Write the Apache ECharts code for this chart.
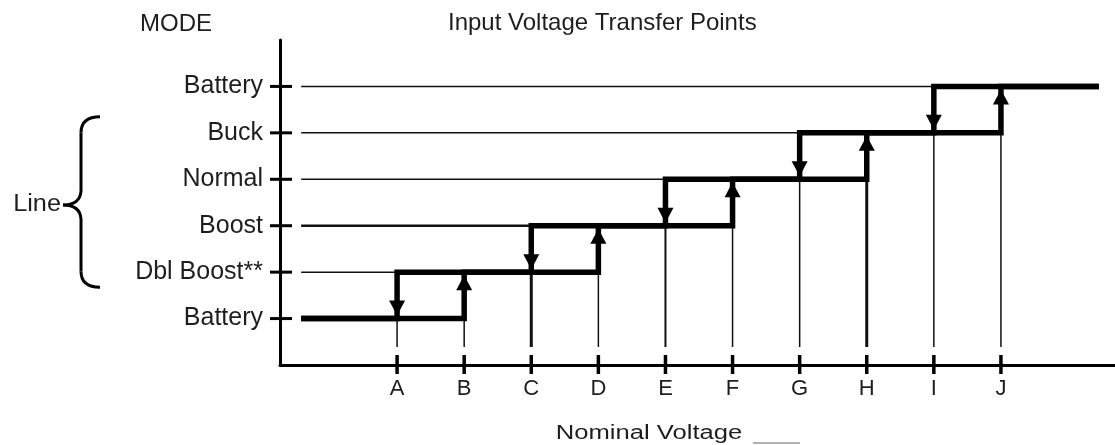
<!DOCTYPE html>
<html><head><meta charset="utf-8">
<script src="https://cdn.jsdelivr.net/npm/echarts@6/dist/echarts.min.js"></script>
<style>html,body{margin:0;padding:0;background:#fff}#c{width:1115px;height:445px}</style>
</head><body><div id="c"></div>
<script>
// ---- data ----
const categories = ['A','B','C','D','E','F','G','H','I','J'];
const modes = ['Battery','Dbl Boost**','Boost','Normal','Buck','Battery'];
// transfer points when voltage falls (mode steps down)
const fallingPoints = ['A','C','E','G','I'];
const fallingFrom = [1,2,3,4,5];
const fallingTo = [0,1,2,3,4];
// transfer points when voltage rises (mode steps up)
const risingPoints = ['B','D','F','H','J'];
const risingFrom = [0,1,2,3,4];
const risingTo = [1,2,3,4,5];
// modes grouped under "Line" (top, bottom)
const bracketModes = [4, 1];

// ---- layout constants ----
const X_MIN = -0.745, X_MAX = 11.7, Y_MIN = -1, Y_MAX = 6;
const X_START = -0.43, X_END = 11.46;
const FONT = "'Liberation Sans', Arial, Helvetica, sans-serif";
const TXT = '#1e1e1e';
const xOf = c => categories.indexOf(c) + 1;

const risingPath = [[X_START, 0]];
risingPoints.forEach((c, i) => { risingPath.push([xOf(c), risingFrom[i]], [xOf(c), risingTo[i]]); });
risingPath.push([X_END, modes.length - 1]);
const fallingPath = [[X_START, 0]];
fallingPoints.forEach((c, i) => { fallingPath.push([xOf(c), fallingTo[i]], [xOf(c), fallingFrom[i]]); });
fallingPath.push([X_END, modes.length - 1]);

const gridData = fallingPoints.map((c, i) => [xOf(c), fallingFrom[i]]);
const thinData = categories.map(c => {
  const fi = fallingPoints.indexOf(c);
  if (fi >= 0) return [xOf(c), fallingTo[fi]];
  const ri = risingPoints.indexOf(c);
  return [xOf(c), risingFrom[ri]];
});
const thinWidth = {C: 3, H: 3, E: 2};
const arrowData = fallingPoints.map((c, i) => [xOf(c), fallingTo[i], -1])
  .concat(risingPoints.map((c, i) => [xOf(c), risingTo[i], 1]));
const xTickData = categories.map(c => [xOf(c), Y_MIN]);
const yTickData = modes.map((m, i) => [X_MIN, i]);

const chart = echarts.init(document.getElementById('c'), null, {renderer: 'canvas'});
chart.setOption({
  animation: false,
  backgroundColor: '#fff',
  title: {
    text: 'Input Voltage Transfer Points', left: 448, top: 11, padding: 0,
    textStyle: {fontSize: 24, fontWeight: 'normal', color: TXT, fontFamily: FONT}
  },
  grid: {left: 280, right: 0, top: 40, bottom: 80},
  xAxis: {
    type: 'value', min: X_MIN, max: X_MAX,
    axisLine: {onZero: false, lineStyle: {color: '#000', width: 3}},
    axisTick: {show: false}, splitLine: {show: false},
    axisLabel: {
      customValues: categories.map(xOf),
      formatter: v => categories[Math.round(v) - 1] || '',
      margin: 13, fontSize: 22, color: TXT, fontFamily: FONT
    }
  },
  yAxis: {
    type: 'value', min: Y_MIN, max: Y_MAX,
    axisLine: {onZero: false, lineStyle: {color: '#000', width: 3}},
    axisTick: {show: false}, splitLine: {show: false},
    axisLabel: {
      customValues: modes.map((m, i) => i),
      formatter: v => modes[Math.round(v)] || '',
      margin: 17, fontSize: 25, color: TXT, fontFamily: FONT
    }
  },
  graphic: [
    {type: 'text', x: 140, y: 24, style: {text: 'MODE', fontSize: 24, fontFamily: FONT, fill: TXT, verticalAlign: 'middle'}},
    {type: 'text', x: 649, y: 433, scaleX: 1.28, style: {text: 'Nominal Voltage', fontSize: 20, fontFamily: FONT, fill: TXT, align: 'center', verticalAlign: 'middle'}},
    {type: 'line', shape: {x1: 753, y1: 443, x2: 800, y2: 443}, style: {stroke: '#999', lineWidth: 1.5}}
  ],
  series: [
    { // thin level lines
      type: 'custom', z: 1, silent: true, clip: false, data: gridData,
      renderItem: (p, api) => {
        const a = api.coord([X_START, api.value(1)]);
        const b = api.coord([api.value(0), api.value(1)]);
        return {type: 'line', shape: {x1: a[0], y1: a[1], x2: b[0], y2: b[1]},
          style: {stroke: '#111', lineWidth: api.value(1) === 2 ? 2.5 : 1.5}};
      }
    },
    { // thin vertical lines from the voltage ticks
      type: 'custom', z: 1, silent: true, clip: false, data: thinData,
      renderItem: (p, api) => {
        const t = api.coord([api.value(0), api.value(1)]);
        const b = api.coord([api.value(0), Y_MIN]);
        const w = thinWidth[categories[p.dataIndex]] || 1.5;
        return {type: 'line', shape: {x1: t[0], y1: t[1], x2: t[0], y2: b[1] - 18},
          style: {stroke: '#111', lineWidth: w}};
      }
    },
    {type: 'line', z: 3, silent: true, data: risingPath, symbol: 'none',
      lineStyle: {color: '#000', width: 5.5, cap: 'butt', join: 'miter'}},
    {type: 'line', z: 3, silent: true, data: fallingPath, symbol: 'none',
      lineStyle: {color: '#000', width: 5.5, cap: 'butt', join: 'miter'}},
    { // arrows
      type: 'custom', z: 4, silent: true, clip: false, data: arrowData,
      renderItem: (p, api) => {
        const c = api.coord([api.value(0), api.value(1)]);
        const dir = api.value(2);
        const tipY = dir < 0 ? c[1] - 3 : c[1] + 3;
        const baseY = dir < 0 ? tipY - 15 : tipY + 15;
        return {type: 'polygon', shape: {points: [[c[0] - 8, baseY], [c[0] + 8, baseY], [c[0], tipY]]},
          style: {fill: '#000'}};
      }
    },
    { // x ticks crossing the axis
      type: 'custom', z: 5, silent: true, clip: false, data: xTickData,
      renderItem: (p, api) => {
        const c = api.coord([api.value(0), api.value(1)]);
        return {type: 'line', shape: {x1: c[0], y1: c[1] - 10, x2: c[0], y2: c[1] + 9},
          style: {stroke: '#000', lineWidth: 3.5}};
      }
    },
    { // y ticks crossing the axis
      type: 'custom', z: 5, silent: true, clip: false, data: yTickData,
      renderItem: (p, api) => {
        const c = api.coord([api.value(0), api.value(1)]);
        return {type: 'line', shape: {x1: c[0] - 10, y1: c[1], x2: c[0] + 12, y2: c[1]},
          style: {stroke: '#000', lineWidth: 3}};
      }
    },
    { // "Line" brace
      type: 'custom', z: 5, silent: true, clip: false, data: [[X_MIN, bracketModes[0], bracketModes[1]]],
      renderItem: (p, api) => {
        const T = api.coord([X_MIN, api.value(1)])[1] - 16;
        const B = api.coord([X_MIN, api.value(2)])[1] + 15;
        const M = (T + B) / 2 + 3;
        const s = {stroke: '#000', lineWidth: 3, fill: null};
        return {type: 'group', children: [
          {type: 'bezierCurve', shape: {x1: 100, y1: T, cpx1: 81, cpy1: T, x2: 81, y2: T + 16}, style: s},
          {type: 'line', shape: {x1: 81, y1: T + 16, x2: 81, y2: M - 14}, style: s},
          {type: 'bezierCurve', shape: {x1: 81, y1: M - 14, cpx1: 80, cpy1: M, x2: 63, y2: M}, style: s},
          {type: 'bezierCurve', shape: {x1: 63, y1: M, cpx1: 80, cpy1: M, x2: 81, y2: M + 14}, style: s},
          {type: 'line', shape: {x1: 81, y1: M + 14, x2: 81, y2: B - 16}, style: s},
          {type: 'bezierCurve', shape: {x1: 81, y1: B - 16, cpx1: 81, cpy1: B, x2: 100, y2: B}, style: s},
          {type: 'text', x: 61, y: M, scaleX: 1.1, style: {text: 'Line', fontSize: 23, fontFamily: FONT, fill: TXT, align: 'right', verticalAlign: 'middle'}}
        ]};
      }
    }
  ]
});
</script></body></html>
